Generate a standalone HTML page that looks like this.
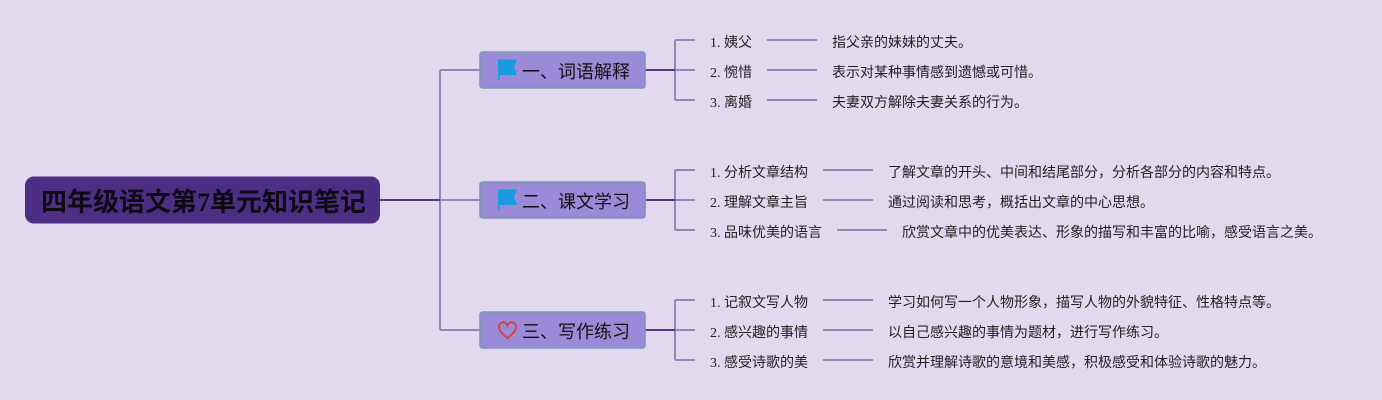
<!DOCTYPE html>
<html lang="zh">
<head>
<meta charset="utf-8">
<style>
html,body{margin:0;padding:0;width:1382px;height:400px;overflow:hidden;background:#e2d9ee}
svg{display:block}
text{font-family:"Liberation Serif","Noto Sans CJK SC",serif;fill:#222}
.leaf{font-size:14px}
.branch{font-size:18px;fill:#111}
.root{font-size:26px;font-weight:bold;fill:#0d0a14}
.l{fill:none;stroke:#8a7ab2;stroke-width:1.7}
.d{fill:none;stroke:#55397f;stroke-width:2}
.box{fill:#9b8ad8;stroke:#7a96b4;stroke-width:1.5}
</style>
</head>
<body>
<svg width="1382" height="400" viewBox="0 0 1382 400" xmlns="http://www.w3.org/2000/svg">
<rect width="1382" height="400" fill="#e2d9ee"/>

<!-- main connectors -->
<path class="l" d="M480 70H441.500Q440 70 440 71.500V328.500Q440 330 441.500 330H480"/>
<path class="l" d="M440 200H480"/>
<path class="d" d="M380 200H440"/>

<!-- branch connectors -->
<path class="l" d="M695 40H676.500Q675 40 675 41.500V98.500Q675 100 676.500 100H695M675 70H695"/>
<path class="d" d="M645 70H675"/>
<path class="l" d="M695 170H676.500Q675 170 675 171.500V228.500Q675 230 676.500 230H695M675 200H695"/>
<path class="d" d="M645 200H675"/>
<path class="l" d="M695 300H676.500Q675 300 675 301.500V358.500Q675 360 676.500 360H695M675 330H695"/>
<path class="d" d="M645 330H675"/>

<!-- leaf connectors -->
<path class="l" d="M767 40H817M767 70H817M767 100H817"/>
<path class="l" d="M823 170H873M823 200H873M837 230H887"/>
<path class="l" d="M823 300H873M823 330H873M823 360H873"/>

<!-- root -->
<rect x="25" y="176.500" width="355" height="47" rx="9" fill="#4c2f85"/>
<text class="root" x="41" y="211">四年级语文第7单元知识笔记</text>

<!-- branches -->
<rect class="box" x="480" y="52" width="165" height="36" rx="2.500"/>
<rect class="box" x="480" y="182" width="165" height="36" rx="2.500"/>
<rect class="box" x="480" y="312" width="165" height="36" rx="2.500"/>

<path d="M498 59.500H517L514 67L517 75H499.500V80H498Z" fill="#1a9be0"/>
<path d="M498 189.500H517L514 197L517 205H499.500V210H498Z" fill="#1a9be0"/>
<path d="M507.500 338C503 334.500 499 331 499 327C499 321.500 505.500 320.500 507.500 325.500C509.500 320.500 516 321.500 516 327C516 331 512 334.500 507.500 338Z" fill="none" stroke="#d04450" stroke-width="2"/>

<text class="branch" x="522" y="78">一、词语解释</text>
<text class="branch" x="522" y="208">二、课文学习</text>
<text class="branch" x="522" y="338">三、写作练习</text>

<!-- leaves -->
<text class="leaf" x="710" y="47">1. 姨父</text>
<text class="leaf" x="832" y="47">指父亲的妹妹的丈夫。</text>
<text class="leaf" x="710" y="77">2. 惋惜</text>
<text class="leaf" x="832" y="77">表示对某种事情感到遗憾或可惜。</text>
<text class="leaf" x="710" y="107">3. 离婚</text>
<text class="leaf" x="832" y="107">夫妻双方解除夫妻关系的行为。</text>

<text class="leaf" x="710" y="177">1. 分析文章结构</text>
<text class="leaf" x="888" y="177">了解文章的开头、中间和结尾部分，分析各部分的内容和特点。</text>
<text class="leaf" x="710" y="207">2. 理解文章主旨</text>
<text class="leaf" x="888" y="207">通过阅读和思考，概括出文章的中心思想。</text>
<text class="leaf" x="710" y="237">3. 品味优美的语言</text>
<text class="leaf" x="902" y="237">欣赏文章中的优美表达、形象的描写和丰富的比喻，感受语言之美。</text>

<text class="leaf" x="710" y="307">1. 记叙文写人物</text>
<text class="leaf" x="888" y="307">学习如何写一个人物形象，描写人物的外貌特征、性格特点等。</text>
<text class="leaf" x="710" y="337">2. 感兴趣的事情</text>
<text class="leaf" x="888" y="337">以自己感兴趣的事情为题材，进行写作练习。</text>
<text class="leaf" x="710" y="367">3. 感受诗歌的美</text>
<text class="leaf" x="888" y="367">欣赏并理解诗歌的意境和美感，积极感受和体验诗歌的魅力。</text>
</svg>
</body>
</html>
